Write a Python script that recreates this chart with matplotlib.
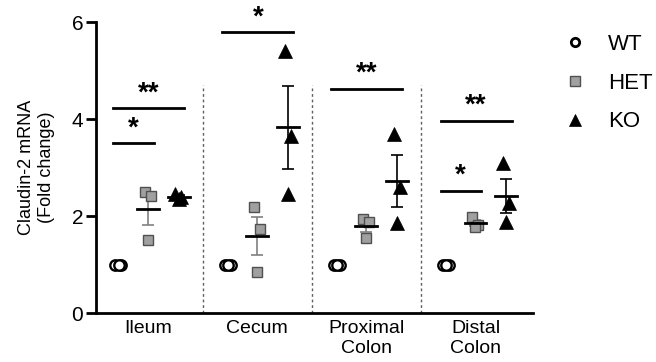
import numpy as np
import matplotlib
matplotlib.use("Agg")
import matplotlib.pyplot as plt

plt.rcParams["font.family"] = ["Liberation Sans", "DejaVu Sans"]

regions = ["Ileum", "Cecum", "Proximal\nColon", "Distal\nColon"]
genotypes = ["WT", "HET", "KO"]

wt = [[1.0, 1.0, 1.0], [1.0, 1.0, 1.0], [1.0, 1.0, 1.0], [1.0, 1.0, 1.0]]
het = [[2.5, 2.41, 1.5], [2.19, 1.73, 0.85], [1.95, 1.88, 1.55], [1.98, 1.81, 1.78]]
ko = [[2.45, 2.4, 2.35], [5.4, 3.65, 2.45], [3.7, 2.6, 1.85], [3.09, 2.27, 1.88]]

# significance: (region, from genotype, to genotype, height, label)
sig = [(0, 0, 1, 3.5, "*"), (0, 0, 2, 4.22, "**"), (1, 0, 2, 5.79, "*"),
       (2, 0, 2, 4.62, "**"), (3, 0, 2, 3.96, "**"), (3, 0, 1, 2.52, "*")]


def main():
    fig = plt.figure(figsize=(6.56, 3.62), dpi=100)
    ax = fig.add_axes([0.146, 0.135, 0.667, 0.804])

    offs = [-0.27, 0.0, 0.28]
    jit = [-0.03, 0.025, 0.0]
    styles = [dict(marker="o", ms=7.5, mfc="white", mec="black", mew=1.7),
              dict(marker="s", ms=7.5, mfc="#a0a0a0", mec="#505050", mew=1.0),
              dict(marker="^", ms=9.5, mfc="black", mec="black", mew=0.5)]
    ebcol = ["black", "#808080", "black"]

    for i in range(len(regions)):
        for g, data in enumerate([wt, het, ko]):
            vals = np.array(data[i])
            x0 = i + offs[g]
            m = vals.mean()
            sem = vals.std(ddof=1) / np.sqrt(len(vals))
            if sem > 0:
                ax.errorbar([x0], [m], yerr=[sem], color=ebcol[g], lw=1.2,
                            capsize=4.5, capthick=1.2, zorder=2)
            ax.plot(x0 + np.array(jit), vals, ls="none", zorder=3, **styles[g])
            if g > 0:
                ax.plot([x0 - 0.1, x0 + 0.1], [m, m], color="black", lw=2, zorder=4)

    for i, a, b, h, lab in sig:
        x1 = i + offs[a] - 0.05
        x2 = i + offs[b] + 0.05
        ax.plot([x1, x2], [h, h], color="black", lw=2, clip_on=False)
        ax.text((x1 + x2) / 2, h + 0.04, lab, ha="center", va="bottom",
                fontsize=20, fontweight="bold", clip_on=False)

    for s in [0.5, 1.5, 2.5]:
        ax.plot([s, s], [0, 4.7], color="#606060", lw=1, ls=(0, (2, 2)))

    ax.set_xlim(-0.48, 3.53)
    ax.set_ylim(0, 6)
    ax.set_yticks([0, 2, 4, 6])
    ax.set_xticks(range(len(regions)))
    ax.set_xticklabels(regions, fontsize=14)
    ax.tick_params(axis="y", labelsize=15, width=2, length=7, pad=2)
    ax.tick_params(axis="x", length=0, pad=5)
    for sp in ["top", "right"]:
        ax.spines[sp].set_visible(False)
    for sp in ["left", "bottom"]:
        ax.spines[sp].set_linewidth(2)
    ax.set_ylabel("Claudin-2 mRNA\n(Fold change)", fontsize=13, labelpad=12,
                  linespacing=1.25)

    leg_styles = [dict(marker="o", ms=6, mfc="white", mec="black", mew=2.0),
                  dict(marker="s", ms=7, mfc="#a0a0a0", mec="#505050", mew=1.0),
                  dict(marker="^", ms=8, mfc="black", mec="black", mew=0.5)]
    handles = [plt.Line2D([], [], ls="none", **st) for st in leg_styles]
    fig.legend(handles, genotypes, loc="upper left", bbox_to_anchor=(0.829, 0.962),
               frameon=False, fontsize=16, handletextpad=1.0, labelspacing=0.8,
               handlelength=1)

    fig.savefig("out.png", dpi=100)


if __name__ == "__main__":
    main()
